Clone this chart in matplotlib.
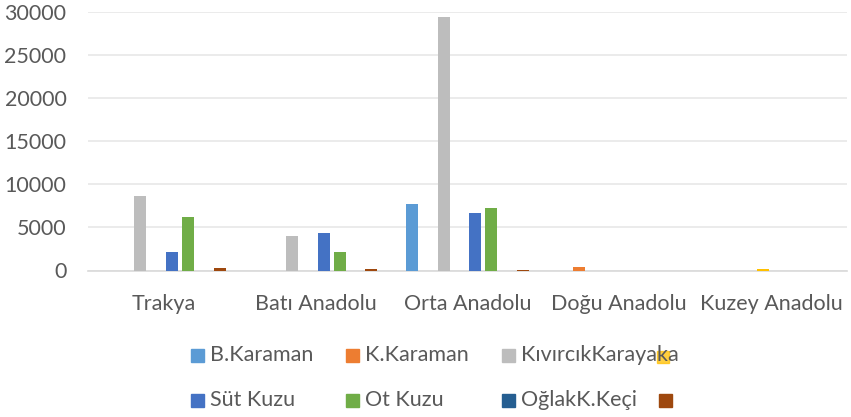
import matplotlib
matplotlib.use("Agg")
import matplotlib.pyplot as plt
from matplotlib.patches import Rectangle
import numpy as np

plt.rcParams['font.family'] = ['Lato', 'DejaVu Sans']

regions = ["Trakya", "Batı Anadolu", "Orta Anadolu", "Doğu Anadolu", "Kuzey Anadolu"]

b_karaman = [0, 0, 7700, 0, 0]
k_karaman = [0, 0, 0, 400, 0]
kivircik = [8700, 3950, 29400, 0, 0]
karayaka = [0, 0, 0, 0, 180]
sut_kuzu = [2100, 4350, 6700, 0, 0]
ot_kuzu = [6250, 2200, 7300, 0, 0]
oglak_keci = [0, 0, 0, 0, 0]
other = [250, 150, 60, 0, 0]

series = [
    ("B.Karaman", b_karaman, "#5B9BD5"),
    ("K.Karaman", k_karaman, "#ED7D31"),
    ("Kıvırcık", kivircik, "#BDBDBD"),
    ("Karayaka", karayaka, "#FFC000"),
    ("Süt Kuzu", sut_kuzu, "#4472C4"),
    ("Ot Kuzu", ot_kuzu, "#70AD47"),
    ("OğlakK.Keçi", oglak_keci, "#255E91"),
    ("", other, "#9E480E"),
]

W, H = 851, 417
fig = plt.figure(figsize=(W / 100, H / 100), dpi=100)
ax = fig.add_axes([88 / W, 1 - 270.5 / H, (847 - 88) / W, (270.5 - 12) / H])

x = np.arange(len(regions))
pitch = 0.105
width = 0.079
for i, (name, vals, col) in enumerate(series):
    ax.bar(x + (i - 3.5) * pitch, vals, width=width, color=col, zorder=3)

ax.set_xlim(-0.5, len(regions) - 0.5)
ax.set_ylim(0, 30000)
ax.set_yticks(range(0, 30001, 5000))
ax.set_xticks(x)
ax.set_xticklabels(regions)
txt = "#595959"
fs = 15.5
ax.tick_params(axis='both', length=0, labelsize=fs, labelcolor=txt)
ax.tick_params(axis='y', pad=15.5)
ax.tick_params(axis='x', pad=17)
ax.grid(axis='y', color="#E8E8E8", linewidth=1.2, zorder=0)
for s in ['top', 'right', 'left']:
    ax.spines[s].set_visible(False)
ax.spines['bottom'].set_color("#D9D9D9")
ax.spines['bottom'].set_linewidth(1.2)

# legend drawn by hand in two rows
def legend_item(px, py, color, label, alpha=1.0, size=13):
    fig.patches.append(Rectangle((px / W, 1 - (py + size / 2) / H), size / W, size / H,
                                 transform=fig.transFigure, color=color, alpha=alpha,
                                 figure=fig))
    if label:
        fig.text((px + 19) / W, 1 - py / H, label, fontsize=fs, color=txt,
                 va='center', ha='left')

legend_item(191, 355, "#5B9BD5", "B.Karaman")
legend_item(346, 355, "#ED7D31", "K.Karaman")
legend_item(502, 355, "#BDBDBD", "KıvırcıkKarayaka")
legend_item(657, 357, "#FFC000", "", alpha=0.75, size=12)
legend_item(191, 400, "#4472C4", "Süt Kuzu")
legend_item(346, 400, "#70AD47", "Ot Kuzu")
legend_item(502, 400, "#255E91", "OğlakK.Keçi")
legend_item(659, 400, "#9E480E", "")

fig.savefig("out.png", dpi=100)
